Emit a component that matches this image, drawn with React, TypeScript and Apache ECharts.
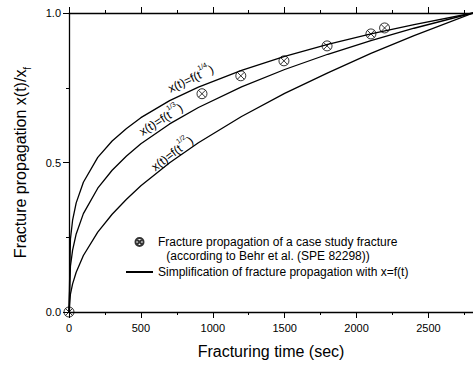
import React, { useEffect, useRef } from "react";
import * as echarts from "echarts";

const FONT = "'Liberation Sans', Arial, sans-serif";

// Case-study points (time in sec, normalized fracture length)
const caseTime = [0, 925, 1195, 1495, 1795, 2100, 2195];
const caseValue = [0, 0.73, 0.79, 0.84, 0.89, 0.93, 0.95];

// Simplification curves
const curveTime = [0, 10, 25, 50, 100, 200, 300, 400, 500, 700, 900, 1200, 1500, 1800, 2100, 2400, 2810];
const curveQuarter = [0, 0.244, 0.307, 0.365, 0.434, 0.517, 0.572, 0.614, 0.650, 0.707, 0.752, 0.808, 0.855, 0.895, 0.930, 0.961, 1.0];
const curveThird = [0, 0.153, 0.207, 0.261, 0.329, 0.414, 0.474, 0.522, 0.563, 0.629, 0.684, 0.753, 0.811, 0.862, 0.908, 0.949, 1.0];
const curveHalf = [0, 0.060, 0.094, 0.133, 0.189, 0.267, 0.327, 0.377, 0.422, 0.499, 0.566, 0.654, 0.731, 0.800, 0.865, 0.924, 1.0];

const xTicks = [0, 500, 1000, 1500, 2000, 2500];
const yTicks = [0, 0.5, 1.0];

const scatterName = "Fracture propagation of a case study fracture";
const scatterName2 = " (according to Behr et al. (SPE 82298))";
const lineName = "Simplification of fracture propagation with x=f(t)";
const curveLabels = ["1/4", "1/3", "1/2"];

const markerPath = "path://M10,0A10,10,0,1,1,-10,0A10,10,0,1,1,10,0ZM-7.07,-7.07L7.07,7.07M7.07,-7.07L-7.07,7.07";

export default function App() {
  const ref = useRef<HTMLDivElement>(null);
  useEffect(() => {
    if (!ref.current) return;
    const chart = echarts.init(ref.current, null, { renderer: "svg" });
    const toPairs = (xs: number[], ys: number[]) => xs.map((x, i) => [x, ys[i]]);
    const lineSeries = (ys: number[]) => ({
      type: "line",
      name: lineName,
      data: toPairs(curveTime, ys),
      showSymbol: false,
      symbol: "none",
      lineStyle: { color: "#000", width: 1.3 },
      itemStyle: { color: "#000", opacity: 0 },
      clip: false,
      z: 2,
    });
    const axisCommon = {
      type: "value",
      min: 0,
      max: 2810,
      splitLine: { show: false },
    };
    const curveLabel = (sup: string, x: number, y: number, deg: number) => ({
      type: "text",
      x,
      y,
      rotation: (deg * Math.PI) / 180,
      style: {
        text: `{a|x(t)=f(t}{s|${sup}}{a|)}`,
        align: "center",
        verticalAlign: "middle",
        fill: "#000",
        rich: {
          a: { fontSize: 12, fontFamily: FONT, lineHeight: 16, verticalAlign: "bottom", fill: "#000" },
          s: { fontSize: 7, fontFamily: FONT, lineHeight: 7, verticalAlign: "top", fill: "#000" },
        },
      },
    });
    chart.setOption({
      animation: false,
      backgroundColor: "#fff",
      grid: { left: 69, right: 0, top: 13, bottom: 53, containLabel: false },
      xAxis: [
        {
          ...axisCommon,
          position: "bottom",
          interval: 500,
          name: "Fracturing time (sec)",
          nameLocation: "middle",
          nameGap: 31,
          nameTextStyle: { fontSize: 16, fontFamily: FONT, color: "#000" },
          axisLine: { show: true, lineStyle: { color: "#000", width: 1.3 } },
          axisTick: { show: true, inside: false, length: 6, lineStyle: { color: "#000", width: 1 } },
          axisLabel: {
            fontSize: 11,
            fontFamily: FONT,
            color: "#000",
            margin: 10,
            showMaxLabel: false,
            formatter: (v: number) => (xTicks.includes(v) ? String(v) : ""),
          },
        },
        {
          ...axisCommon,
          position: "bottom",
          interval: 250,
          axisLine: { show: false },
          axisTick: { show: true, inside: false, length: 3, lineStyle: { color: "#000", width: 1 } },
          axisLabel: { show: false },
        },
        {
          ...axisCommon,
          position: "top",
          interval: 500,
          axisLine: { show: true, lineStyle: { color: "#000", width: 1.3 } },
          axisTick: { show: true, inside: false, length: 6, lineStyle: { color: "#000", width: 1 } },
          axisLabel: { show: false },
        },
        {
          ...axisCommon,
          position: "top",
          interval: 250,
          axisLine: { show: false },
          axisTick: { show: true, inside: false, length: 3, lineStyle: { color: "#000", width: 1 } },
          axisLabel: { show: false },
        },
      ],
      yAxis: [
        {
          type: "value",
          min: 0,
          max: 1,
          interval: 0.5,
          position: "left",
          name: "{a|Fracture propagation x(t)/x}{b|f}",
          nameLocation: "middle",
          nameGap: 37,
          nameTextStyle: {
            fontSize: 16,
            fontFamily: FONT,
            color: "#000",
            rich: {
              a: { fontSize: 16, fontFamily: FONT, color: "#000", lineHeight: 20, verticalAlign: "top" },
              b: { fontSize: 10, fontFamily: FONT, color: "#000", lineHeight: 10, verticalAlign: "bottom" },
            },
          },
          splitLine: { show: false },
          axisLine: { show: true, lineStyle: { color: "#000", width: 1.3 } },
          axisTick: { show: true, inside: false, length: 6, lineStyle: { color: "#000", width: 1 } },
          minorTick: { show: true, splitNumber: 2, length: 3, lineStyle: { color: "#000", width: 1 } },
          minorSplitLine: { show: false },
          axisLabel: {
            fontSize: 11,
            fontFamily: FONT,
            color: "#000",
            margin: 8,
            formatter: (v: number) => (yTicks.includes(v) ? v.toFixed(1) : ""),
          },
        },
      ],
      legend: {
        show: true,
        orient: "vertical",
        left: 120,
        top: 231,
        padding: 5,
        itemWidth: 27,
        itemHeight: 8,
        itemGap: 18,
        selectedMode: false,
        textStyle: { fontSize: 12, fontFamily: FONT, color: "#000" },
        data: [
          { name: scatterName },
          { name: lineName, itemStyle: { opacity: 0 } },
        ],
      },
      graphic: [
        {
          type: "text",
          x: 163,
          y: 256,
          style: {
            text: scatterName2,
            font: `12px ${FONT}`,
            fill: "#000",
            verticalAlign: "middle",
            align: "left",
          },
        },
        curveLabel(curveLabels[0], 190, 77, 25),
        curveLabel(curveLabels[1], 160, 118, 32),
        curveLabel(curveLabels[2], 171, 152, 37),
      ],
      series: [
        lineSeries(curveQuarter),
        lineSeries(curveThird),
        lineSeries(curveHalf),
        {
          type: "scatter",
          name: scatterName,
          data: toPairs(caseTime, caseValue),
          symbol: markerPath,
          symbolSize: 10,
          symbolKeepAspect: true,
          itemStyle: { color: "rgba(0,0,0,0)", borderColor: "#000", borderWidth: 1 },
          clip: false,
          z: 3,
        },
      ],
    });
    return () => chart.dispose();
  }, []);
  return (
    <div
      ref={ref}
      style={{ position: "fixed", left: 0, top: 0, width: 473, height: 365, background: "#fff" }}
    />
  );
}
